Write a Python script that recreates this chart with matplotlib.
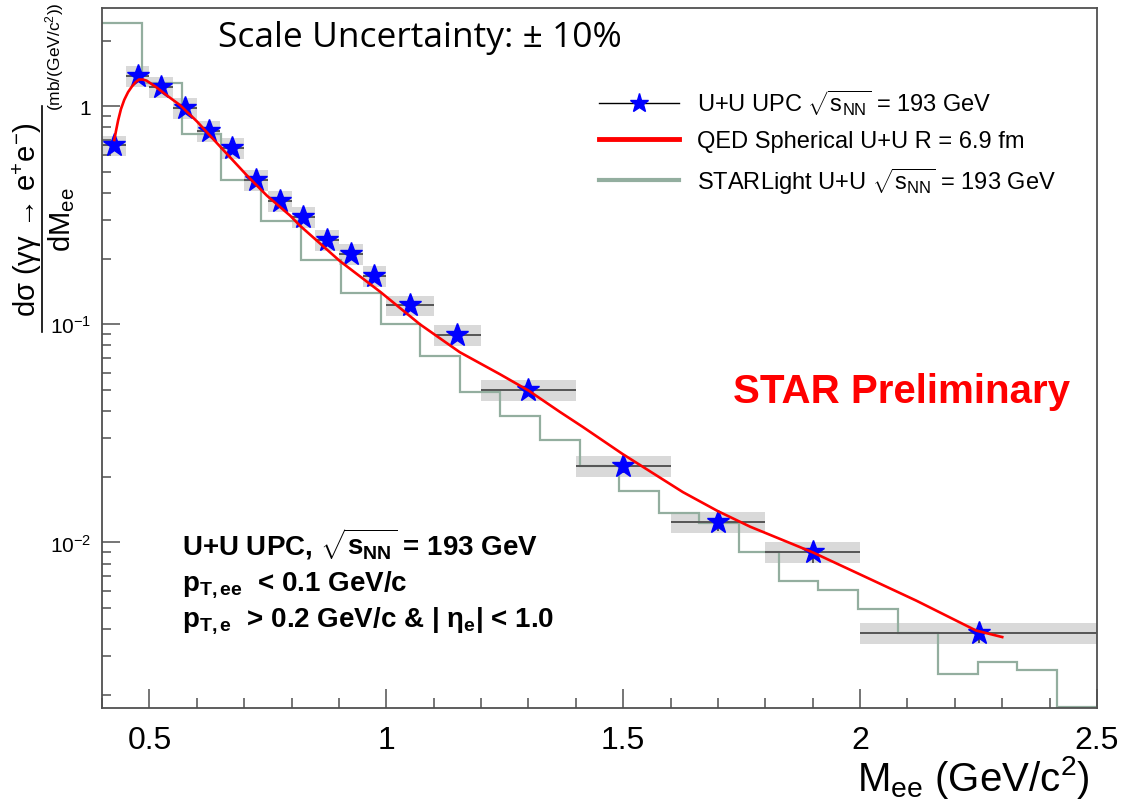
import numpy as np
import matplotlib
matplotlib.use("Agg")
import matplotlib.pyplot as plt
from matplotlib.lines import Line2D
from matplotlib.ticker import FixedLocator, LogLocator, NullFormatter, MultipleLocator

plt.rcParams['font.family'] = ['Liberation Sans', 'DejaVu Sans']
plt.rcParams['mathtext.fontset'] = 'custom'
plt.rcParams['mathtext.rm'] = 'Liberation Sans'
plt.rcParams['mathtext.it'] = 'Liberation Sans:italic'
plt.rcParams['mathtext.bf'] = 'Liberation Sans:bold'
plt.rcParams['mathtext.sf'] = 'Liberation Sans'

# measured U+U UPC spectrum
mee = [0.425, 0.475, 0.525, 0.575, 0.625, 0.675, 0.725, 0.775, 0.825, 0.875,
       0.925, 0.975, 1.05, 1.15, 1.3, 1.5, 1.7, 1.9, 2.25]
bin_lo = [0.40, 0.45, 0.50, 0.55, 0.60, 0.65, 0.70, 0.75, 0.80, 0.85,
          0.90, 0.95, 1.0, 1.1, 1.2, 1.4, 1.6, 1.8, 2.0]
bin_hi = [0.45, 0.50, 0.55, 0.60, 0.65, 0.70, 0.75, 0.80, 0.85, 0.90,
          0.95, 1.0, 1.1, 1.2, 1.4, 1.6, 1.8, 2.0, 2.5]
xsec = [0.661, 1.375, 1.22, 0.98, 0.767, 0.641, 0.461, 0.369, 0.311, 0.244,
        0.210, 0.167, 0.122, 0.0891, 0.0498, 0.0224, 0.0124, 0.0090, 0.00385]
stat_rel = [0.05, 0.03, 0.03, 0.03, 0.03, 0.03, 0.04, 0.04, 0.04, 0.05,
            0.05, 0.05, 0.05, 0.06, 0.06, 0.07, 0.09, 0.11, 0.10]
sys_rel = [0.11] * 19

# QED spherical U+U, R = 6.9 fm
qed_m = [0.426, 0.429, 0.434, 0.440, 0.447, 0.455, 0.463, 0.471, 0.478, 0.486,
         0.494, 0.515, 0.537, 0.565, 0.600, 0.649, 0.706, 0.748, 0.797, 0.818,
         0.902, 0.987, 1.071, 1.155, 1.24, 1.30, 1.366, 1.415, 1.499, 1.626,
         1.70, 1.768, 1.90, 2.014, 2.119, 2.245, 2.30]
qed_y = [0.70, 0.76, 0.86, 0.97, 1.07, 1.16, 1.23, 1.29, 1.325, 1.325,
         1.31, 1.22, 1.12, 1.01, 0.853, 0.654, 0.481, 0.389, 0.315, 0.283,
         0.195, 0.141, 0.100, 0.0745, 0.0590, 0.0497, 0.0397, 0.0338, 0.0254, 0.0170,
         0.0139, 0.0118, 0.0090, 0.0069, 0.0054, 0.00394, 0.00368]

# STARLight histogram, 25 bins between 0.4 and 2.5
sl_edges = np.linspace(0.4, 2.5, 26)
sl_vals = [2.41, 1.28, 0.743, 0.461, 0.298, 0.197, 0.139, 0.100, 0.0713, 0.0491,
           0.0381, 0.0295, 0.0224, 0.0172, 0.0137, 0.01225, 0.0090, 0.00668, 0.00607, 0.00496,
           0.00385, 0.00249, 0.00283, 0.0026, 0.00175]

frame_col = '#505050'
sl_col = '#93ae9f'

fig = plt.figure(figsize=(11.24, 8.04), dpi=100)
ax = fig.add_axes([102 / 1124, 95 / 804, 995 / 1124, 700 / 804])

mee_a = np.array(mee)
xs = np.array(xsec)
srel = np.array(sys_rel)
lo = np.array(bin_lo)
hi = np.array(bin_hi)

# systematic boxes
ax.bar(lo, 2 * srel * xs, bottom=xs * (1 - srel), width=hi - lo, align='edge',
       color='#d9d9d9', edgecolor='none', zorder=1)

ax.stairs(sl_vals, sl_edges, baseline=None, color=sl_col, lw=1.6, zorder=2)

ax.errorbar(mee_a, xs, xerr=[mee_a - lo, hi - mee_a], yerr=xs * np.array(stat_rel),
            fmt='none', ecolor='#555555', elinewidth=1.4, capsize=0, zorder=3)
ax.plot(mee_a, xs, ls='none', marker='*', ms=17, color='#0000ff', mec='#0000ff', zorder=4)

ax.plot(qed_m, qed_y, color='#ff0000', lw=1.9, zorder=5)

ax.set_yscale('log')
ax.set_xlim(0.4, 2.5)
ax.set_ylim(0.00174, 2.82)

ax.xaxis.set_major_locator(FixedLocator([0.5, 1.0, 1.5, 2.0, 2.5]))
ax.set_xticklabels(['0.5', '1', '1.5', '2', '2.5'])
ax.xaxis.set_minor_locator(MultipleLocator(0.1))
ax.yaxis.set_major_locator(FixedLocator([0.01, 0.1, 1]))
ax.set_yticklabels([r'$10^{-2}$', r'$10^{-1}$', '1'])
ax.yaxis.set_minor_locator(LogLocator(base=10, subs=np.arange(2, 10)))
ax.yaxis.set_minor_formatter(NullFormatter())

ax.tick_params(axis='x', which='major', direction='in', length=14, width=1.1,
               color=frame_col, labelsize=23, pad=12)
ax.tick_params(axis='x', which='minor', direction='in', length=7, width=1.1, color=frame_col)
ax.tick_params(axis='y', which='major', direction='in', length=13, width=1.1,
               color=frame_col, labelsize=15, pad=8)
ax.tick_params(axis='y', which='minor', direction='in', length=6.5, width=1.1, color=frame_col)
for s in ax.spines.values():
    s.set_color(frame_col)
    s.set_linewidth(1.3)

fig.text(1090 / 1124, 1 - 791 / 804, r'M$_{\mathrm{ee}}$ (GeV/c$^{2}$)', fontsize=29,
         ha='right', va='baseline')

# y title: fraction built from separate pieces
fig.text(27 / 1124, 1 - 220 / 804, 'd\u03c3 (\u03b3\u03b3 \u2192 e$^{+}$e$^{-}$)', fontsize=21,
         rotation=90, ha='center', va='center')
fig.add_artist(Line2D([42 / 1124, 42 / 1124], [1 - 333 / 804, 1 - 107 / 804],
                      color='black', lw=1.2, transform=fig.transFigure))
fig.text(62 / 1124, 1 - 220 / 804, r'dM$_{\mathrm{ee}}$', fontsize=21,
         rotation=90, ha='center', va='center')
fig.text(55 / 1124, 1 - 57 / 804, r'(mb/(GeV/c$^{2}$))', fontsize=12.5,
         rotation=90, ha='center', va='center')

fig.text(218 / 1124, 1 - 47 / 804, 'Scale Uncertainty: \u00b1 10%', fontsize=25.5,
         family=['Open Sans', 'DejaVu Sans'], ha='left', va='baseline')
fig.text(733 / 1124, 1 - 403 / 804, 'STAR Preliminary', fontsize=29, fontweight='bold',
         color='#ff0000', ha='left', va='baseline')

fig.text(182 / 1124, 1 - 556 / 804, r'U+U UPC, $\sqrt{\mathbf{s}_{\mathbf{NN}}}$ = 193 GeV',
         fontsize=20, fontweight='bold', ha='left', va='baseline')
fig.text(182 / 1124, 1 - 590 / 804, r'$\mathbf{p}_{\mathbf{T,ee}}$  < 0.1 GeV/c',
         fontsize=20, fontweight='bold', ha='left', va='baseline')
fig.text(182 / 1124, 1 - 627 / 804, '$\\mathbf{p}_{\\mathbf{T,e}}$  > 0.2 GeV/c & | \u03b7$_{\\mathbf{e}}$| < 1.0',
         fontsize=20, fontweight='bold', ha='left', va='baseline')

handles = [
    Line2D([], [], color='black', lw=1, marker='*', ms=14, mfc='#0000ff', mec='#0000ff'),
    Line2D([], [], color='#ff0000', lw=3.5),
    Line2D([], [], color=sl_col, lw=3),
]
labels = [
    r'U+U UPC $\sqrt{\mathrm{s}_{\mathrm{NN}}}$ = 193 GeV',
    'QED Spherical U+U R = 6.9 fm',
    r'STARLight U+U $\sqrt{\mathrm{s}_{\mathrm{NN}}}$ = 193 GeV',
]
ax.legend(handles, labels, loc='upper left', bbox_to_anchor=(0.4995, 0.886),
          frameon=False, fontsize=17, handlelength=3.4, handletextpad=0.76,
          labelspacing=0.55, borderpad=0, borderaxespad=0)

fig.savefig('out.png', dpi=100)
